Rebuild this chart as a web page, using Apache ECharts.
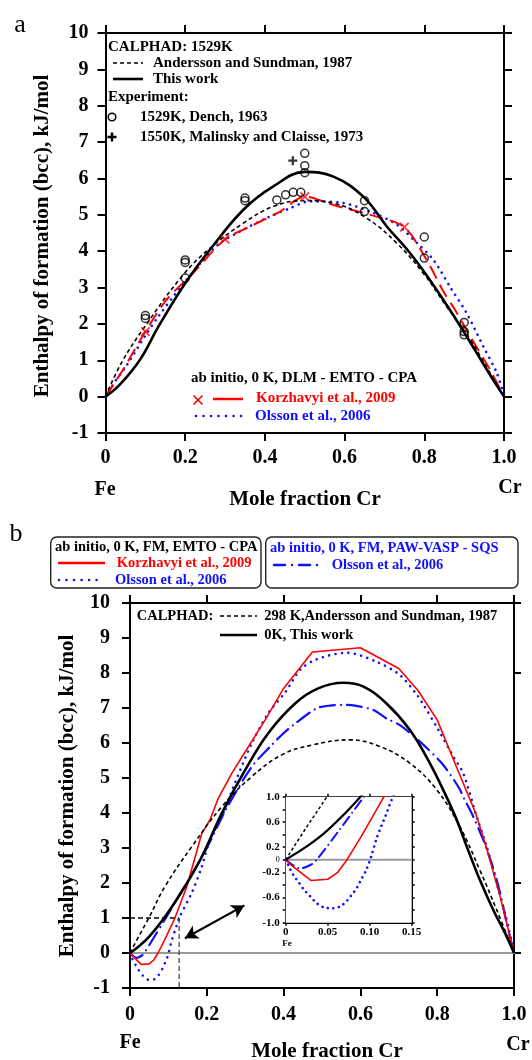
<!DOCTYPE html>
<html><head><meta charset="utf-8">
<script src="https://cdn.jsdelivr.net/npm/echarts@6/dist/echarts.min.js"></script>
<style>html,body{margin:0;padding:0;background:#fff}#c{width:532px;height:1060px}</style>
</head><body><div id="c"></div>
<script>
// ---------- tick labels ----------
const xTickLabels = ['0','0.2','0.4','0.6','0.8','1.0'];
const insetXLabels = ['0','0.05','0.10','0.15'];
const insetYShown = [1, 0.6, 0.2, -0.2, -0.6, -1];
const rightTicksB = [0,2,4,6,8,10];

// ---------- panel a (1529 K / DLM) ----------
const aThisWork = [[0,0],[0.036,0.33],[0.087,1.02],[0.133,1.93],[0.2,3.12],[0.262,4.04],[0.346,5.14],[0.421,5.78],[0.5,6.18],[0.572,6.05],[0.647,5.5],[0.706,4.68],[0.764,3.95],[0.814,3.21],[0.864,2.39],[0.906,1.66],[0.957,0.74],[1,0]];
const aAndersson1529 = [[0,0],[0.04,0.93],[0.099,1.93],[0.195,3.35],[0.262,4.08],[0.346,4.77],[0.421,5.23],[0.5,5.39],[0.572,5.32],[0.655,4.91],[0.731,4.22],[0.797,3.40],[0.856,2.48],[0.915,1.57],[0.965,0.65],[1,0]];
const aKorzDLM = [[0,0],[0.02,0.33],[0.049,0.83],[0.1,1.79],[0.153,2.66],[0.22,3.40],[0.3,4.33],[0.363,4.68],[0.438,5.09],[0.5,5.5],[0.572,5.27],[0.68,4.95],[0.75,4.66],[0.806,3.76],[0.848,2.89],[0.877,2.39],[0.915,1.66],[0.965,0.74],[1,0]];
const aKorzDLMMarks = [[0.1,1.79],[0.3,4.33],[0.5,5.5],[0.75,4.66]];
const aOlssonDLM = [[0,0],[0.024,0.42],[0.049,0.79],[0.1,1.68],[0.133,2.21],[0.187,2.99],[0.245,3.76],[0.287,4.22],[0.337,4.54],[0.404,4.91],[0.463,5.18],[0.513,5.37],[0.588,5.34],[0.664,5.09],[0.731,4.73],[0.782,4.22],[0.823,3.76],[0.864,3.03],[0.906,2.30],[0.948,1.38],[0.982,0.65],[1,0]];
const aDench = [[0.1,2.23],[0.1,2.15],[0.2,3.76],[0.2,3.69],[0.2,3.26],[0.35,5.46],[0.35,5.39],[0.43,5.41],[0.452,5.55],[0.471,5.62],[0.49,5.62],[0.5,6.69],[0.5,6.35],[0.5,6.16],[0.65,5.39],[0.65,5.09],[0.8,4.39],[0.8,3.81],[0.9,2.04],[0.9,1.79],[0.9,1.70]];
const aMalinsky = [[0.47,6.49]];

// ---------- panel b (0 K / FM) ----------
const bAndersson298 = [[0,0],[0.025,0.52],[0.049,1.0],[0.091,1.9],[0.161,3.04],[0.239,4.18],[0.317,5.04],[0.395,5.66],[0.473,5.94],[0.573,6.09],[0.651,5.9],[0.729,5.42],[0.799,4.66],[0.859,3.61],[0.911,2.37],[0.955,1.23],[1,0]];
const bThisWork0K = [[0,0],[0.025,0.21],[0.05,0.47],[0.089,1.0],[0.143,1.9],[0.187,2.75],[0.239,3.99],[0.3,5.23],[0.36,6.28],[0.43,7.13],[0.49,7.56],[0.556,7.72],[0.608,7.61],[0.668,7.13],[0.729,6.37],[0.781,5.42],[0.82,4.56],[0.851,3.8],[0.877,3.04],[0.911,2.09],[0.946,1.23],[0.977,0.56],[1,0]];
const bKorzFM = [[0,0],[0.005,-0.07],[0.03,-0.33],[0.05,-0.31],[0.062,-0.2],[0.073,0],[0.09,0.37],[0.117,1.0],[0.148,1.9],[0.187,3.42],[0.208,3.8],[0.23,4.42],[0.265,5.13],[0.3,5.75],[0.352,6.66],[0.367,6.94],[0.4,7.56],[0.475,8.6],[0.6,8.72],[0.7,8.13],[0.75,7.5],[0.8,6.66],[0.85,5.32],[0.9,4.0],[0.93,2.94],[0.964,1.61],[1,0]];
const bOlssonFM = [[0,0],[0.005,-0.14],[0.009,-0.24],[0.016,-0.37],[0.022,-0.48],[0.029,-0.58],[0.037,-0.69],[0.046,-0.76],[0.056,-0.77],[0.065,-0.74],[0.073,-0.65],[0.079,-0.55],[0.085,-0.44],[0.09,-0.31],[0.096,-0.16],[0.102,0.06],[0.108,0.33],[0.114,0.54],[0.119,0.70],[0.124,0.88],[0.129,1.03],[0.16,1.7],[0.187,2.47],[0.208,3.23],[0.239,3.9],[0.273,4.85],[0.317,5.99],[0.36,6.85],[0.405,7.46],[0.443,8.09],[0.486,8.39],[0.564,8.58],[0.642,8.32],[0.703,7.94],[0.747,7.38],[0.764,7.1],[0.807,6.3],[0.842,5.61],[0.868,5.13],[0.903,3.89],[0.929,3.04],[0.955,1.99],[0.981,0.94],[1,0]];
const bOlssonVASP = [[0,0],[0.008,-0.08],[0.017,-0.14],[0.03,-0.08],[0.037,0],[0.061,0.42],[0.092,0.98],[0.15,2.05],[0.2,3.0],[0.25,4.1],[0.317,5.32],[0.369,5.94],[0.395,6.23],[0.425,6.51],[0.486,6.99],[0.521,7.07],[0.564,7.09],[0.59,7.06],[0.634,6.94],[0.668,6.7],[0.703,6.51],[0.755,6.04],[0.812,5.42],[0.855,4.75],[0.872,4.37],[0.89,3.99],[0.92,3.23],[0.946,2.42],[0.964,1.71],[0.981,0.85],[1,0]];

// ---------- annotations (data coords) ----------
const guideH = [[0,1],[0.128,1]];
const guideV = [[0.128,1],[0.128,-1]];
const zeroMain = [[0,0],[1.023,0]];
const zeroInset = [[0,0],[0.15,0]];
const arrowEnds = [[0.143,0.42],[0.298,1.36]];

// ---------- build ----------
const F = '"Liberation Serif", "Times New Roman", serif';
const RED = '#ff0000', BLUE = '#1010ff', BLK = '#000';
const chart = echarts.init(document.getElementById('c'), null, {renderer:'canvas'});

const lblMain = {fontFamily:F, fontWeight:'bold', fontSize:20, color:'#000'};
function xAx(grid, pos, show, margin, extra){
  return Object.assign({type:'value', gridIndex:grid, position:pos, min:0, max:1, interval:0.2,
    axisLine:{show:true, onZero:false, lineStyle:{color:'#000', width:2}},
    axisTick:{show:true, inside:false, length:8, lineStyle:{color:'#000', width:2}},
    splitLine:{show:false},
    axisLabel:Object.assign({show:show, margin:margin, formatter:v=>xTickLabels[Math.round(v/0.2)]}, lblMain)}, extra||{});
}
function yAx(grid, pos, show, margin, extra){
  return Object.assign({type:'value', gridIndex:grid, position:pos, min:-1, max:10, interval:1,
    axisLine:{show:true, onZero:false, lineStyle:{color:'#000', width:2}},
    axisTick:{show:true, inside:false, length:8, lineStyle:{color:'#000', width:2}},
    splitLine:{show:false},
    axisLabel:Object.assign({show:show, margin:margin}, lblMain)}, extra||{});
}
const lblInset = {fontFamily:F, fontWeight:'bold', fontSize:11, color:'#000'};
const insetX = (pos, show)=>({type:'value', gridIndex:2, position:pos, min:0, max:0.15, interval:0.05,
  axisLine:{show:true, onZero:false, lineStyle:{color:'#000', width:2}},
  axisTick:{show:true, inside:false, length:3, lineStyle:{color:'#000', width:1.5}},
  splitLine:{show:false},
  axisLabel:Object.assign({show:show, margin:4, formatter:v=>insetXLabels[Math.round(v/0.05)]}, lblInset)});
const insetY = (pos, show)=>({type:'value', gridIndex:2, position:pos, min:-1, max:1, interval:0.2,
  axisLine:{show:true, onZero:false, lineStyle:{color:'#000', width:2}},
  axisTick:{show:true, inside:false, length:3, lineStyle:{color:'#000', width:1.5}},
  splitLine:{show:false},
  axisLabel:Object.assign({show:show, margin:6, formatter:v=>{
      const r = Math.round(v*10)/10;
      if (Math.abs(r) < 1e-9) return '{s|0}';
      return insetYShown.some(q=>Math.abs(q-r)<1e-9) ? r.toFixed(1) : '';
    }, rich:{s:{fontFamily:F, fontWeight:'normal', fontSize:8, color:'#000'}}}, lblInset)});

function line(data, xi, yi, color, width, type, smooth, cap, z){
  return {type:'line', data:data, xAxisIndex:xi, yAxisIndex:yi, symbol:'none', smooth:smooth||false,
    lineStyle:{color:color, width:width, type:type||'solid', cap:cap||'butt'}, silent:true, clip:true, z:z||2};
}
const DOT = [0.01, 6.5], DASHK = [4, 3], DASHR = [14, 7], DASHDOT = [15, 6, 0.01, 6];
const PLUS = 'path://M3.75,0h2.5v3.75h3.75v2.5h-3.75v3.75h-2.5v-3.75h-3.75v-2.5h3.75z';
const THINPLUS = 'path://M4.3,0h1.4v4.3h4.3v1.4h-4.3v4.3h-1.4v-4.3h-4.3v-1.4h4.3z';

const series = [];
// panel a
series.push(line(aOlssonDLM, 0, 0, BLUE, 2.6, DOT, 0.3, 'round'));
series.push(line(aKorzDLM, 0, 0, RED, 2, DASHR, 0.3));
series.push(line(aAndersson1529, 0, 0, BLK, 1.6, DASHK, 0.4));
series.push(line(aThisWork, 0, 0, BLK, 2.6, 'solid', 0.4));
series.push({type:'scatter', data:aKorzDLMMarks, xAxisIndex:0, yAxisIndex:0, symbol:THINPLUS, symbolRotate:45, symbolSize:12, itemStyle:{color:RED}, silent:true, z:5});
series.push({type:'scatter', data:aDench, xAxisIndex:0, yAxisIndex:0, symbol:'circle', symbolSize:8, itemStyle:{color:'rgba(0,0,0,0)', borderColor:'#000', borderWidth:1.5}, silent:true, z:5});
series.push({type:'scatter', data:aMalinsky, xAxisIndex:0, yAxisIndex:0, symbol:PLUS, symbolSize:9, itemStyle:{color:'#000'}, silent:true, z:5});
// panel b main
series.push(Object.assign(line(zeroMain, 2, 2, '#999', 2, 'solid', false, 'butt', 1), {clip:false}));
series.push(Object.assign(line(guideH, 2, 2, '#000', 1.3, [5,3]), {markLine:{silent:true, symbol:['arrow','arrow'], symbolSize:[11,13], label:{show:false},
  lineStyle:{color:'#000', width:2.2, type:'solid'}, data:[[{coord:arrowEnds[0]},{coord:arrowEnds[1]}]]}}));
series.push(line(guideV, 2, 2, '#555', 1.4, [5,3]));
series.push(line(bOlssonFM, 2, 2, BLUE, 2.6, DOT, 0.3, 'round'));
series.push(line(bOlssonVASP, 2, 2, BLUE, 2.2, DASHDOT, 0.3, 'round'));
series.push(line(bKorzFM, 2, 2, RED, 1.6, 'solid', false));
series.push(line(bAndersson298, 2, 2, BLK, 1.6, DASHK, 0.4));
series.push(line(bThisWork0K, 2, 2, BLK, 2.6, 'solid', 0.4));
// inset
series.push(line(zeroInset, 4, 4, '#999', 2, 'solid', false, 'butt', 3));
series.push(line(bOlssonFM, 4, 4, BLUE, 2.6, [0.01, 5.5], 0.3, 'round', 4));
series.push(line(bOlssonVASP, 4, 4, BLUE, 2, [10, 5, 0.01, 5], 0.3, 'round', 4));
series.push(line(bKorzFM, 4, 4, RED, 1.6, 'solid', false, 'butt', 4));
series.push(line(bAndersson298, 4, 4, BLK, 1.5, [3, 2.5], 0.4, 'butt', 4));
series.push(line(bThisWork0K, 4, 4, BLK, 2.2, 'solid', 0.4, 'butt', 4));

function txt(text, x, y, size, color, align, weight, rot){
  return {type:'text', x:x, y:y, rotation:rot||0, silent:true, z:100,
    style:{text:text, font:(weight||'bold')+' '+size+'px '+F, fill:color||'#000',
      textAlign:align||'left', verticalAlign:'middle', textVerticalAlign:'middle'}};
}
function seg(x1,y1,x2,y2,color,w,dash,cap){
  return {type:'line', silent:true, z:100, shape:{x1:x1,y1:y1,x2:x2,y2:y2},
    style:{stroke:color, lineWidth:w, lineDash:dash||null, lineCap:cap||'butt'}};
}
const graphic = [
  txt('a', 20, 25, 26, '#000', 'center', 'normal'),
  txt('b', 16, 534, 26, '#000', 'center', 'normal'),
  // panel a legend
  txt('CALPHAD: 1529K', 108, 47, 15),
  seg(113,63,143,63,'#000',1.6,[4,3]),
  txt('Andersson and Sundman, 1987', 153, 63, 15),
  seg(113,79,143,79,'#000',2.6),
  txt('This work', 153, 79, 15),
  txt('Experiment:', 108, 97, 15),
  {type:'circle', silent:true, z:100, shape:{cx:112, cy:117, r:3.8}, style:{fill:'rgba(0,0,0,0)', stroke:'#000', lineWidth:1.5}},
  txt('1529K, Dench, 1963', 140, 117, 15),
  seg(107.5,137,116.5,137,'#000',2.5), seg(112,132.5,112,141.5,'#000',2.5),
  txt('1550K, Malinsky and Claisse, 1973', 140, 137, 15),
  txt('ab initio, 0 K, DLM - EMTO - CPA', 191, 378, 15),
  seg(193.5,395.5,202.5,404.5,RED,1.6), seg(193.5,404.5,202.5,395.5,RED,1.6),
  seg(213,399,243,399,RED,2.5),
  txt('Korzhavyi et al., 2009', 256, 398, 15, RED),
  seg(196,416,243,416,BLUE,2.6,[0.01,7.5],'round'),
  txt('Olsson et al., 2006', 255, 416, 15, BLUE),
  // axis titles panel a
  txt('Enthalpy of formation (bcc), kJ/mol', 43, 236, 21, '#000', 'center', 'bold', Math.PI/2),
  txt('Fe', 105, 490, 20, '#000', 'center'),
  txt('Cr', 510, 488, 20, '#000', 'center'),
  txt('Mole fraction Cr', 305, 500, 21, '#000', 'center'),
  // panel b legend boxes
  {type:'rect', silent:true, z:99, shape:{x:50.7, y:537, width:210.3, height:51, r:6}, style:{fill:'rgba(0,0,0,0)', stroke:'#222', lineWidth:1.4}},
  {type:'rect', silent:true, z:99, shape:{x:265.7, y:537, width:252.3, height:51, r:6}, style:{fill:'rgba(0,0,0,0)', stroke:'#222', lineWidth:1.4}},
  txt('ab initio, 0 K, FM, EMTO - CPA', 55, 547.5, 14.5),
  seg(58,563,105,563,RED,2.5),
  txt('Korzhavyi et al., 2009', 116.7, 563, 14.5, RED),
  seg(59,580,103,580,BLUE,2.6,[0.01,7.5],'round'),
  txt('Olsson et al., 2006', 115, 580, 14.5, BLUE),
  txt('ab initio, 0 K, FM, PAW-VASP - SQS', 270, 548.5, 14.5, BLUE),
  seg(274,565,320,565,BLUE,2.4,[11,7,0.01,7],'round'),
  txt('Olsson et al., 2006', 331.7, 565, 14.5, BLUE),
  // panel b CALPHAD legend
  txt('CALPHAD:', 136.7, 616, 14.5),
  seg(220,616,257,616,'#000',1.6,[4,3]),
  txt('298 K,Andersson and Sundman, 1987', 264.3, 616, 14.5),
  seg(220,635,257,635,'#000',2.6),
  txt('0K, This work', 264.3, 635, 14.5),
  // axis titles panel b
  txt('Enthalpy of formation (bcc), kJ/mol', 68, 796, 21, '#000', 'center', 'bold', Math.PI/2),
  txt('Fe', 130, 1043, 20, '#000', 'center'),
  txt('Cr', 518, 1045, 20, '#000', 'center'),
  txt('Mole fraction Cr', 327, 1052, 21, '#000', 'center'),
  txt('Fe', 287, 944, 9, '#000', 'center')
];

chart.setOption({
  animation:false,
  backgroundColor:'#fff',
  grid:[
    {left:105.5, top:33, width:398.5, height:400, outerBoundsMode:'none', containLabel:false},
    {left:130, top:603, width:384, height:385, outerBoundsMode:'none', containLabel:false},
    {left:285.7, top:796.7, width:126, height:126, show:true, backgroundColor:'#fff', borderWidth:0, outerBoundsMode:'none', containLabel:false, z:3}
  ],
  xAxis:[
    xAx(0,'bottom',true,15),
    xAx(0,'top',false,8),
    xAx(1,'bottom',true,17),
    xAx(1,'top',false,8),
    insetX('bottom',true),
    insetX('top',false)
  ],
  yAxis:[
    yAx(0,'left',true,17),
    yAx(0,'right',false,8),
    yAx(1,'left',true,20),
    yAx(1,'right',false,8,{axisTick:{show:true, inside:false, length:7, customValues:rightTicksB, lineStyle:{color:'#000', width:2}}}),
    insetY('left',true),
    insetY('right',false)
  ],
  series:series,
  graphic:graphic
});
</script></body></html>
